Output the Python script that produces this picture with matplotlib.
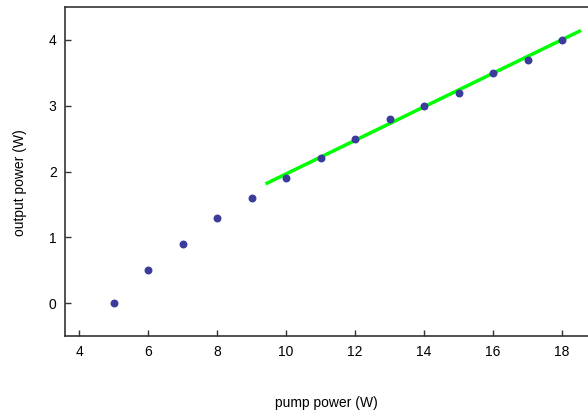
import matplotlib
matplotlib.use("Agg")
import matplotlib.pyplot as plt
import numpy as np

plt.rcParams['font.family'] = ['Liberation Sans', 'DejaVu Sans']

# measured points
pump = [5, 6, 7, 8, 9, 10, 11, 12, 13, 14, 15, 16, 17, 18]
output = [0.0, 0.5, 0.9, 1.3, 1.6, 1.9, 2.2, 2.5, 2.8, 3.0, 3.2, 3.5, 3.7, 4.0]

# linear fit over the upper range
fit_range = [9.45, 18.5]
fit_slope = 0.255
fit_intercept = -0.585

fig = plt.figure(figsize=(5.88, 4.13), dpi=100)
ax = fig.add_axes([0.1105, 0.186, 0.8895, 0.797])

fx = np.array(fit_range)
ax.plot(fx, fit_slope * fx + fit_intercept, color='#00ff00', lw=2.5, zorder=2)
ax.scatter(pump, output, s=22, color='#3b3b9c', zorder=3)

ax.set_xlim(3.59, 18.75)
ax.set_ylim(-0.5, 4.5)
ax.set_xticks([4, 6, 8, 10, 12, 14, 16, 18])
ax.set_yticks([0, 1, 2, 3, 4])

for s in ['left', 'bottom', 'top']:
    ax.spines[s].set_color('#333333')
    ax.spines[s].set_linewidth(1.2)
ax.spines['right'].set_visible(False)
ax.tick_params(direction='in', length=4, width=1, color='#333333',
               labelsize=10, pad=6)

ax.set_xlabel('pump power (W)', fontsize=10)
ax.set_ylabel('output power (W)', fontsize=10)
ax.xaxis.set_label_coords(0.5, -0.183)
ax.yaxis.set_label_coords(-0.073, 0.468)

fig.savefig('out.png', dpi=100)
